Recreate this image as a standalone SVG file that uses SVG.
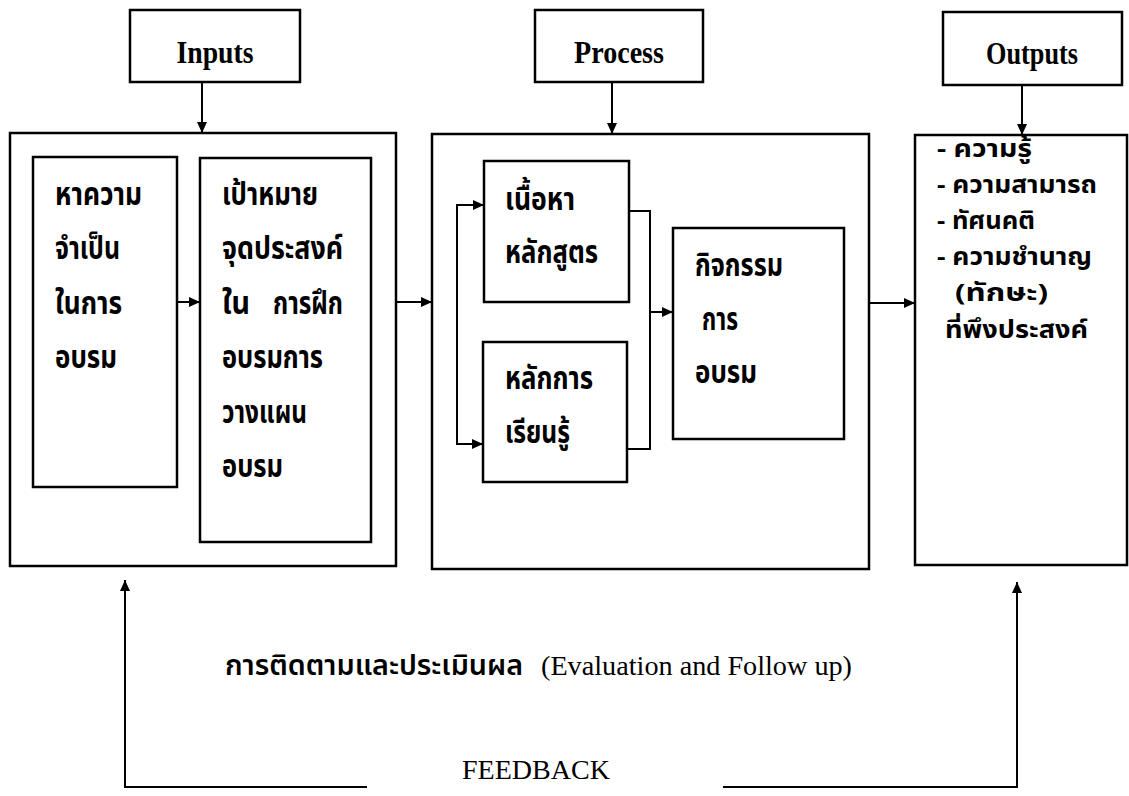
<svg xmlns="http://www.w3.org/2000/svg" width="1129" height="796" viewBox="0 0 1129 796">
<defs>
<style>
.box{fill:#fff;stroke:#000;stroke-width:2.5}
.ln{fill:none;stroke:#000;stroke-width:2}
.lbl{font-family:"Liberation Serif","Times New Roman",serif;font-weight:bold;font-size:31px;fill:#000}
.en{font-family:"Liberation Serif","Times New Roman",serif;font-size:27px;fill:#000}
.th{font-family:"Noto Sans Thai","Noto Sans Thai Looped","Garuda","Loma","Noto Sans",sans-serif;font-weight:bold;font-size:32px;fill:#000}
.tho{font-family:"Noto Sans Thai","Noto Sans Thai Looped","Garuda","Loma","Noto Sans",sans-serif;font-weight:bold;font-size:24px;fill:#000}
.thr{font-family:"Noto Sans Thai","Noto Sans Thai Looped","Garuda","Loma","Noto Sans",sans-serif;font-weight:600;font-size:28px;fill:#000}
</style>
<marker id="ah" markerUnits="userSpaceOnUse" markerWidth="12" markerHeight="10" refX="11" refY="5" orient="auto">
<path d="M0,0 L11,5 L0,10 z" fill="#000"/>
</marker>
</defs>
<rect width="1129" height="796" fill="#fff"/>

<g id="inputs-label">
<rect class="box" x="130" y="10" width="170" height="72"/>
<text class="lbl" x="215" y="63" text-anchor="middle" textLength="77" lengthAdjust="spacingAndGlyphs">Inputs</text>
</g>
<g id="process-label">
<rect class="box" x="535" y="10" width="168" height="72"/>
<text class="lbl" x="619" y="63" text-anchor="middle" textLength="90" lengthAdjust="spacingAndGlyphs">Process</text>
</g>
<g id="outputs-label">
<rect class="box" x="943" y="12" width="179" height="73"/>
<text class="lbl" x="1032" y="64" text-anchor="middle" textLength="92" lengthAdjust="spacingAndGlyphs">Outputs</text>
</g>

<g id="inputs-box">
<rect class="box" x="10" y="133" width="386" height="433"/>
</g>
<g id="needs">
<rect class="box" x="33" y="157" width="144" height="330"/>
<text class="th" x="55" y="205" textLength="87" lengthAdjust="spacingAndGlyphs">หาความ</text>
<text class="th" x="55" y="259" textLength="65" lengthAdjust="spacingAndGlyphs">จำเป็น</text>
<text class="th" x="55" y="314" textLength="67" lengthAdjust="spacingAndGlyphs">ในการ</text>
<text class="th" x="55" y="368" textLength="62" lengthAdjust="spacingAndGlyphs">อบรม</text>
</g>
<g id="objectives">
<rect class="box" x="200" y="158" width="171" height="384"/>
<text class="th" x="222" y="205" textLength="96" lengthAdjust="spacingAndGlyphs">เป้าหมาย</text>
<text class="th" x="222" y="259" textLength="121" lengthAdjust="spacingAndGlyphs">จุดประสงค์</text>
<text class="th" x="222" y="314" textLength="28" lengthAdjust="spacingAndGlyphs">ใน</text>
<text class="th" x="273" y="314" textLength="70" lengthAdjust="spacingAndGlyphs">การฝึก</text>
<text class="th" x="222" y="368" textLength="101" lengthAdjust="spacingAndGlyphs">อบรมการ</text>
<text class="th" x="222" y="423" textLength="85" lengthAdjust="spacingAndGlyphs">วางแผน</text>
<text class="th" x="222" y="477" textLength="61" lengthAdjust="spacingAndGlyphs">อบรม</text>
</g>

<g id="process-box">
<rect class="box" x="432" y="134" width="437" height="435"/>
</g>
<g id="content">
<rect class="box" x="484" y="161" width="145" height="141"/>
<text class="th" x="505" y="210" textLength="70" lengthAdjust="spacingAndGlyphs">เนื้อหา</text>
<text class="th" x="505" y="263" textLength="93" lengthAdjust="spacingAndGlyphs">หลักสูตร</text>
</g>
<g id="learning">
<rect class="box" x="483" y="342" width="144" height="140"/>
<text class="th" x="505" y="389" textLength="88" lengthAdjust="spacingAndGlyphs">หลักการ</text>
<text class="th" x="505" y="443" textLength="65" lengthAdjust="spacingAndGlyphs">เรียนรู้</text>
</g>
<g id="activities">
<rect class="box" x="673" y="228" width="171" height="211"/>
<text class="th" x="695" y="276" textLength="88" lengthAdjust="spacingAndGlyphs">กิจกรรม</text>
<text class="th" x="702" y="330" textLength="36" lengthAdjust="spacingAndGlyphs">การ</text>
<text class="th" x="695" y="383" textLength="62" lengthAdjust="spacingAndGlyphs">อบรม</text>
</g>

<g id="outputs-box">
<rect class="box" x="915" y="135" width="212" height="430"/>
<text class="tho" x="937" y="157" textLength="95" lengthAdjust="spacingAndGlyphs">- ความรู้</text>
<text class="tho" x="937" y="193" textLength="160" lengthAdjust="spacingAndGlyphs">- ความสามารถ</text>
<text class="tho" x="937" y="229" textLength="98" lengthAdjust="spacingAndGlyphs">- ทัศนคติ</text>
<text class="tho" x="937" y="265" textLength="155" lengthAdjust="spacingAndGlyphs">- ความชำนาญ</text>
<text class="tho" x="955" y="301" textLength="93" lengthAdjust="spacingAndGlyphs">(ทักษะ)</text>
<text class="tho" x="945" y="338" textLength="143" lengthAdjust="spacingAndGlyphs">ที่พึงประสงค์</text>
</g>

<g id="feedback-labels">
<text class="thr" x="225" y="675" textLength="298" lengthAdjust="spacingAndGlyphs">การติดตามและประเมินผล</text>
<text class="en" x="541" y="675" textLength="311" lengthAdjust="spacingAndGlyphs">(Evaluation and Follow up)</text>
<text class="en" x="462" y="779" textLength="148" lengthAdjust="spacingAndGlyphs">FEEDBACK</text>
</g>

<g id="connectors">
<line class="ln" x1="202" y1="82" x2="202" y2="133" marker-end="url(#ah)"/>
<line class="ln" x1="612" y1="82" x2="612" y2="134" marker-end="url(#ah)"/>
<line class="ln" x1="1022" y1="85" x2="1022" y2="135" marker-end="url(#ah)"/>
<line class="ln" x1="177" y1="302" x2="200" y2="302" marker-end="url(#ah)"/>
<line class="ln" x1="396" y1="302" x2="432" y2="302" marker-end="url(#ah)"/>
<line class="ln" x1="869" y1="303" x2="915" y2="303" marker-end="url(#ah)"/>
<path class="ln" d="M470,205 H457 V444 H470"/>
<line class="ln" x1="457" y1="205" x2="484" y2="205" marker-end="url(#ah)"/>
<line class="ln" x1="457" y1="444" x2="483" y2="444" marker-end="url(#ah)"/>
<path class="ln" d="M629,211 H650 V449 H627"/>
<line class="ln" x1="650" y1="312" x2="673" y2="312" marker-end="url(#ah)"/>
<path class="ln" d="M367,787 H125 V600"/>
<line class="ln" x1="125" y1="610" x2="125" y2="580" marker-end="url(#ah)"/>
<path class="ln" d="M723,787 H1017 V600"/>
<line class="ln" x1="1017" y1="610" x2="1017" y2="582" marker-end="url(#ah)"/>
</g>
</svg>
